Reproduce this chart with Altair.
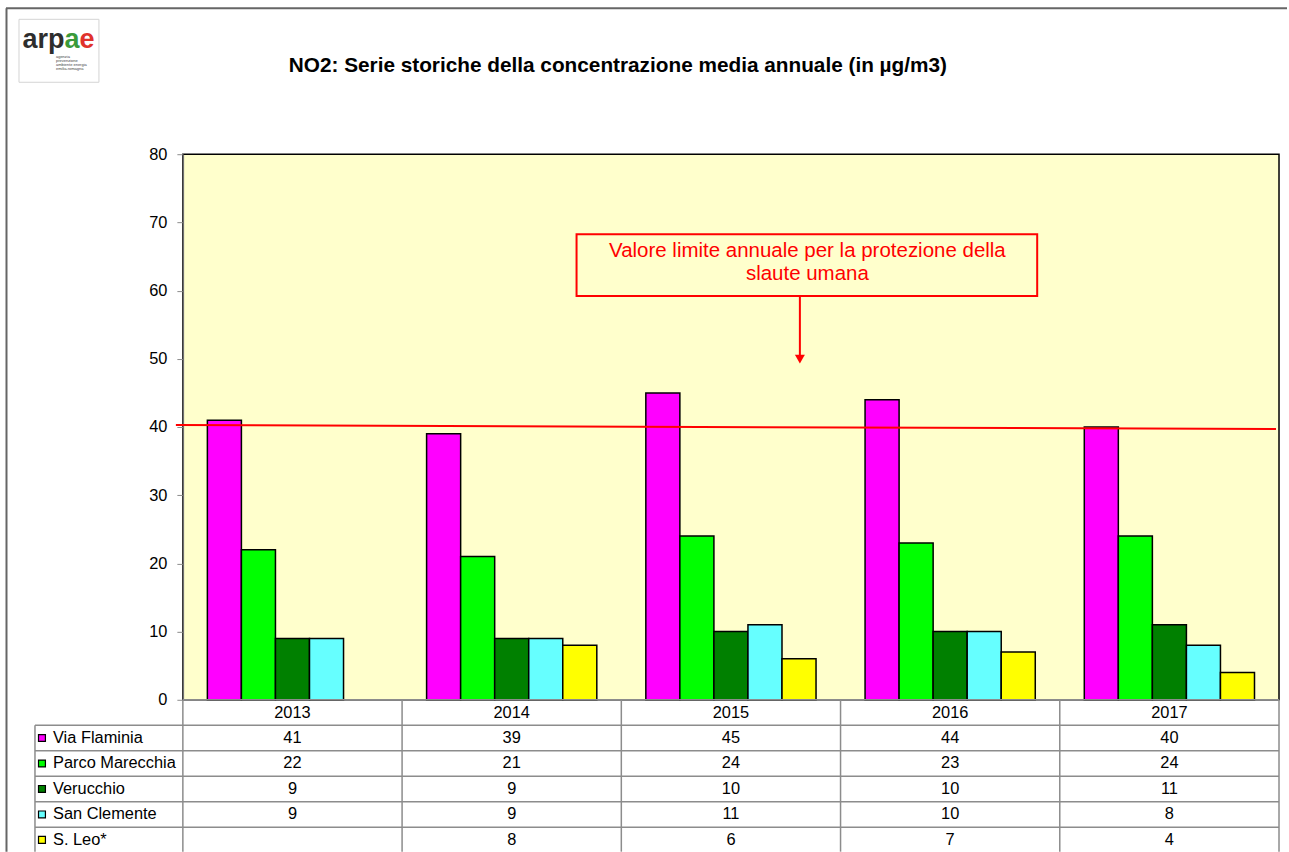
import altair as alt
import pandas as pd

# ---- data -------------------------------------------------------------
years = ["2013", "2014", "2015", "2016", "2017"]
stations = ["Via Flaminia", "Parco Marecchia", "Verucchio", "San Clemente", "S. Leo*"]
station_colors = ["#FF00FF", "#00FF00", "#008000", "#66FFFF", "#FFFF00"]

via_flaminia = [41, 39, 45, 44, 40]
parco_marecchia = [22, 21, 24, 23, 24]
verucchio = [9, 9, 10, 10, 11]
san_clemente = [9, 9, 11, 10, 8]
san_leo = [None, 8, 6, 7, 4]

y_ticks = [0, 10, 20, 30, 40, 50, 60, 70, 80]
limit_line_ends = [40.3, 39.7]  # hand-drawn limit line, slightly tilted

title_text = "NO2: Serie storiche della concentrazione media annuale (in µg/m3)"
note_lines = ["Valore limite annuale per la protezione della", "slaute umana"]
logo_small = ["agenzia", "prevenzione", "ambiente energia", "emilia-romagna"]

# ---- layout -----------------------------------------------------------
FONT = "Liberation Sans"
LINE = "#8c8c8c"
W, H = 1097, 546
TABLE_H = 153
LEFT, TOP, RIGHT = 182, 153, 9
TXT = 16.4

records = []
for st, vals in zip(stations, [via_flaminia, parco_marecchia, verucchio, san_clemente, san_leo]):
    for yr, v in zip(years, vals):
        records.append({"year": yr, "station": st, "value": v})
df = pd.DataFrame(records).dropna(subset=["value"])

# table cells: a header row with the years plus one row per station
cells = pd.concat([
    pd.DataFrame({"year": years, "row": "header", "label": years}),
    pd.DataFrame({"year": df["year"], "row": df["station"],
                  "label": df["value"].astype(int).astype(str)}),
], ignore_index=True)
stations_df = pd.DataFrame({"row": stations, "station": stations})
years_df = pd.DataFrame({"year": years})
one = pd.DataFrame({"k": [0]})
limit_df = pd.DataFrame({"start": [limit_line_ends[0]], "end": [limit_line_ends[1]]})

x_scale = alt.Scale(type="band", domain=years, paddingInner=0, paddingOuter=0)
y_scale = alt.Scale(domain=[0, 80])
color_scale = alt.Scale(domain=stations, range=station_colors)
row_scale = alt.Scale(type="band", domain=["header"] + stations, paddingInner=0, paddingOuter=0)

y_axis = alt.Axis(values=y_ticks, title=None, grid=False, labelFontSize=TXT,
                  labelFont=FONT, labelColor="black", tickSize=6, tickColor=LINE,
                  domainColor="#707070", domainWidth=1.5, labelPadding=10)

# ---- bars + limit line + annotations ---------------------------------
bars = alt.Chart(df).mark_bar(stroke="black", strokeWidth=1.5).encode(
    x=alt.X("year:N", scale=x_scale, axis=None),
    xOffset=alt.XOffset("station:N", scale=alt.Scale(domain=stations, paddingInner=0, paddingOuter=0.72)),
    y=alt.Y("value:Q", scale=y_scale, axis=y_axis),
    color=alt.Color("station:N", scale=color_scale, legend=None),
)

limit = alt.Chart(limit_df).mark_rule(color="#FF0000", strokeWidth=2).encode(
    x=alt.value(-7), x2=alt.value(1094),
    y=alt.Y("start:Q", scale=y_scale, axis=y_axis), y2="end:Q",
)

note_box = alt.Chart(one).mark_rect(fillOpacity=0, stroke="#FF0000", strokeWidth=2).encode(
    x=alt.value(394), x2=alt.value(855), y=alt.value(80), y2=alt.value(142))
note_text1 = alt.Chart(one).mark_text(align="center", baseline="middle", fontSize=20.5,
                                       font=FONT, color="#FF0000").encode(
    x=alt.value(625), y=alt.value(97), text=alt.value(note_lines[0]))
note_text2 = alt.Chart(one).mark_text(align="center", baseline="middle", fontSize=20.5,
                                       font=FONT, color="#FF0000").encode(
    x=alt.value(625), y=alt.value(120), text=alt.value(note_lines[1]))
arrow_shaft = alt.Chart(one).mark_rule(color="#FF0000", strokeWidth=2).encode(
    x=alt.value(617.5), y=alt.value(142), y2=alt.value(201))
arrow_head = alt.Chart(one).mark_point(shape="triangle-down", size=100, filled=True,
                                        color="#FF0000", opacity=1).encode(
    x=alt.value(617.5), y=alt.value(205))

# ---- title, logo, frame ----------------------------------------------
# invisible rectangle spanning the whole page, so the padded layout keeps the page size fixed
page = alt.Chart(one).mark_rect(fillOpacity=0, strokeWidth=0).encode(
    x=alt.value(-LEFT), x2=alt.value(W + RIGHT), y=alt.value(-TOP), y2=alt.value(H + TABLE_H))

title = alt.Chart(one).mark_text(align="left", baseline="middle", fontSize=20.8, fontWeight="bold",
                                  font=FONT, color="black").encode(
    x=alt.value(106), y=alt.value(-88), text=alt.value(title_text))

logo_box = alt.Chart(one).mark_rect(fill="white", stroke="#d4d4d4", strokeWidth=1).encode(
    x=alt.value(-164), x2=alt.value(-84), y=alt.value(-135), y2=alt.value(-72))
logo_arp = alt.Chart(one).mark_text(align="left", baseline="alphabetic", fontSize=27,
                                     fontWeight="bold", font=FONT, color="#2e2e2e").encode(
    x=alt.value(-160.5), y=alt.value(-106), text=alt.value("arp"))
logo_a = alt.Chart(one).mark_text(align="left", baseline="alphabetic", fontSize=27,
                                   fontWeight="bold", font=FONT, color="#3a9a3a").encode(
    x=alt.value(-118.5), y=alt.value(-106), text=alt.value("a"))
logo_e = alt.Chart(one).mark_text(align="left", baseline="alphabetic", fontSize=27,
                                   fontWeight="bold", font=FONT, color="#e0322c").encode(
    x=alt.value(-103.5), y=alt.value(-106), text=alt.value("e"))
logo_sub = alt.Chart(one).mark_text(align="left", baseline="top", fontSize=4, lineHeight=4,
                                     font=FONT, color="#444444").encode(
    x=alt.value(-127), y=alt.value(-99), text=alt.value(logo_small))

frame_top = alt.Chart(one).mark_rule(color="#666666", strokeWidth=2).encode(
    x=alt.value(-177), x2=alt.value(W + 8), y=alt.value(-146))
frame_left = alt.Chart(one).mark_rule(color="#666666", strokeWidth=2).encode(
    x=alt.value(-176.5), y=alt.value(-146), y2=alt.value(H + TABLE_H - 1))

top = alt.layer(
    page, frame_top, frame_left, logo_box, logo_arp, logo_a, logo_e, logo_sub, title,
    bars, limit, note_box, note_text1, note_text2, arrow_shaft, arrow_head,
).properties(
    width=W, height=H,
    view=alt.ViewBackground(fill="#FFFFCC", stroke="black", strokeWidth=1.5),
)

# ---- data table under the plot ---------------------------------------
header_line = alt.Chart(one).mark_rule(color=LINE, strokeWidth=1.5).encode(
    x=alt.value(0), x2=alt.value(W), y=alt.value(0))
row_lines = alt.Chart(stations_df).mark_rule(color=LINE, strokeWidth=1.5).encode(
    y=alt.Y("row:N", scale=row_scale, bandPosition=0, axis=None),
    x=alt.value(-148), x2=alt.value(W),
)
col_lines = alt.Chart(years_df).mark_rule(color=LINE, strokeWidth=1.5).encode(
    x=alt.X("year:N", scale=x_scale, bandPosition=0, axis=None),
    y=alt.value(0), y2=alt.value(TABLE_H - 1),
)
right_line = alt.Chart(one).mark_rule(color=LINE, strokeWidth=1.5).encode(
    x=alt.value(W), y=alt.value(0), y2=alt.value(TABLE_H - 1))
left_line = alt.Chart(one).mark_rule(color=LINE, strokeWidth=1.5).encode(
    x=alt.value(-148), y=alt.value(TABLE_H / 6), y2=alt.value(TABLE_H - 1))
legend_squares = alt.Chart(stations_df).mark_square(size=48, opacity=1, stroke="black",
                                                     strokeWidth=1.2).encode(
    y=alt.Y("row:N", scale=row_scale, axis=None),
    x=alt.value(-141),
    color=alt.Color("station:N", scale=color_scale, legend=None),
)
legend_labels = alt.Chart(stations_df).mark_text(align="left", baseline="middle", fontSize=TXT,
                                                  font=FONT, color="black").encode(
    y=alt.Y("row:N", scale=row_scale, axis=None),
    x=alt.value(-130),
    text="station:N",
)
cell_text = alt.Chart(cells).mark_text(align="center", baseline="middle", fontSize=TXT,
                                        font=FONT, color="black").encode(
    y=alt.Y("row:N", scale=row_scale, axis=None),
    x=alt.X("year:N", scale=x_scale, axis=None),
    text="label:N",
)

table = alt.layer(
    row_lines, col_lines, header_line, right_line, left_line,
    legend_squares, legend_labels, cell_text,
).properties(
    width=W, height=TABLE_H,
    view=alt.ViewBackground(fillOpacity=0, strokeOpacity=0),
)

chart = alt.vconcat(top, table, spacing=0, bounds="flush").properties(
    autosize=alt.AutoSizeParams(type="pad"),
    padding=0,
    background="white",
)

chart.save("out.html", embed_options={"renderer": "svg", "actions": False})
